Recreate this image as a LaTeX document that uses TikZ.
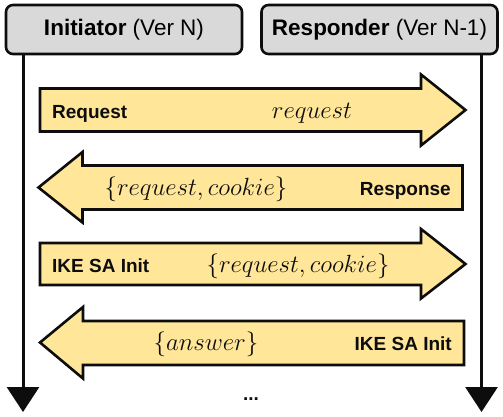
\documentclass[tikz,border=0pt]{standalone}
\usepackage{fontspec}
\setmainfont{Liberation Sans}
\usetikzlibrary{arrows.meta}
\definecolor{hdrgray}{HTML}{D9D9D9}
\definecolor{msgyellow}{HTML}{FFE699}
\definecolor{ink}{HTML}{0D0D0D}
\tikzset{
  hdr/.style={draw=ink, fill=hdrgray, line width=2.6pt, rounded corners=7pt,
    minimum width=236pt, minimum height=49pt, inner sep=0pt,
    font=\fontsize{22.5}{26}\selectfont},
  life/.style={draw=ink, line width=3pt, -{Triangle[length=25pt,width=32pt]}},
  msg/.style={draw=ink, fill=msgyellow, line width=2.6pt, line join=miter},
  lab/.style={inner sep=0pt, font=\fontsize{19}{22}\selectfont\bfseries, text=ink},
  mth/.style={inner sep=0pt, anchor=base, font=\fontsize{24}{28}\selectfont, text=ink}
}
\begin{document}
\begin{tikzpicture}[x=1pt,y=-1pt]
\useasboundingbox (0,0) rectangle (503,417);
% headers
\node[hdr] (I) at (124,29.5) {\textbf{Initiator} (Ver N)};
\node[hdr] (R) at (379.5,29.5) {\textbf{Responder} (Ver N-1)};
% lifelines
\coordinate (Itop) at (23,55);
\coordinate (Ibot) at (23,412);
\coordinate (Rtop) at (481.5,55);
\coordinate (Rbot) at (481.5,412);
\draw[life] (Itop) -- (Ibot);
\draw[life] (Rtop) -- (Rbot);
% message 1 (right)
\draw[msg] (40,88.5) -- (421,88.5) -- (421,74.5) -- (465.5,110) -- (421,145.5) -- (421,131.5) -- (40,131.5) -- cycle;
\node[lab, anchor=base west] (m1a) at (52,118) {Request};
\node[mth] (m1b) at (312,118) {$request$};
% message 2 (left)
\draw[msg] (462.5,165.5) -- (82.5,165.5) -- (82.5,152) -- (38.5,187.5) -- (82.5,222.5) -- (82.5,209.5) -- (462.5,209.5) -- cycle;
\node[mth] (m2a) at (196,195) {$\{request, cookie\}$};
\node[lab, anchor=base east] (m2b) at (451,195) {Response};
% message 3 (right)
\draw[msg] (40,243) -- (421,243) -- (421,229) -- (465.5,264) -- (421,298.5) -- (421,285) -- (40,285) -- cycle;
\node[lab, anchor=base west] (m3a) at (52,272) {IKE SA Init};
\node[mth] (m3b) at (298,272) {$\{request, cookie\}$};
% message 4 (left)
\draw[msg] (464,321) -- (83,321) -- (83,307) -- (40,342.5) -- (83,378.5) -- (83,365) -- (464,365) -- cycle;
\node[mth] (m4a) at (206,350.5) {$\{answer\}$};
\node[lab, anchor=base east] (m4b) at (452,350.5) {IKE SA Init};
% ellipsis
\node[lab, anchor=base] (dots) at (251,400) {...};
\end{tikzpicture}
\end{document}
